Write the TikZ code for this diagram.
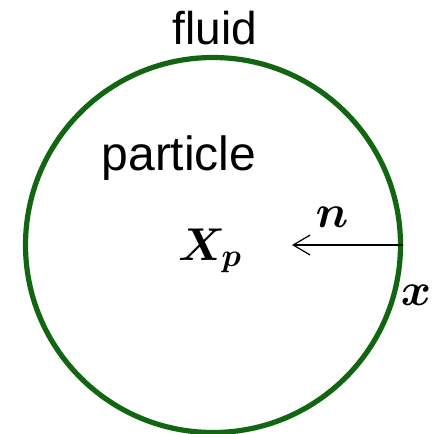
\documentclass[tikz,border=0pt]{standalone}
\usepackage{fix-cm}
\usepackage{amsmath,bm}
\usepackage{fontspec}
\setmainfont{Liberation Sans}
\usetikzlibrary{arrows.meta,positioning}
\definecolor{rimgreen}{RGB}{18,102,18}

\begin{document}
\begin{tikzpicture}[
  x=0.5pt, y=-0.5pt,
  lbl/.style={inner sep=0pt, anchor=base, font=\fontsize{23}{26}\selectfont},
  sym/.style={inner sep=0pt, anchor=base, font=\fontsize{23}{26}\selectfont},
  arr/.style={-{Straight Barb[length=8.5pt, width=10pt]}, line width=0.6pt}
]
\useasboundingbox (0,0) rectangle (434,434);
\node[circle, draw=rimgreen, line width=2.6pt, minimum size=187.5pt,
  inner sep=0pt] (part) at (213,245) {};
\node[lbl] (fluid) at (215,44) {fluid};
\node[lbl, font=\fontsize{24}{27}\selectfont] (name) at (179,170) {particle};
\node[sym] (xp) at (210,260) {$\bm{X}_{\bm{p}}$};
\node[sym] (nvec) at (332,227) {$\bm{n}$};
\node[sym] (xpt) at (416,305) {$\bm{x}$};

\coordinate (surf) at (part.east);
\coordinate (tip) at (292,245);
\draw[arr] (surf) -- (tip);
\end{tikzpicture}
\end{document}
